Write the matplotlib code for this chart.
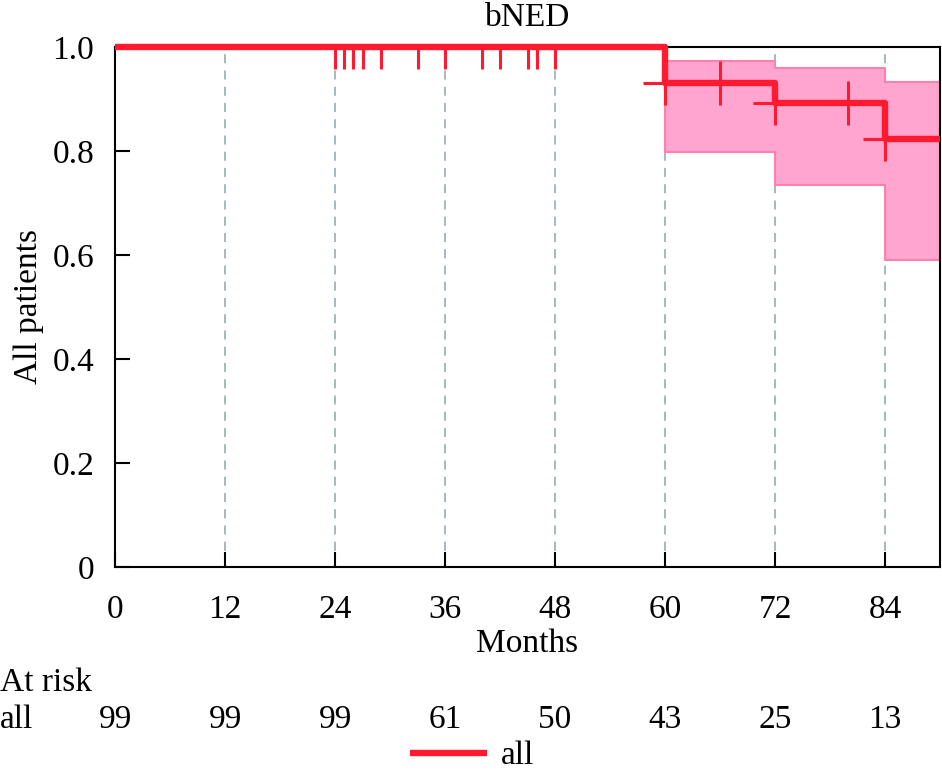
import matplotlib
matplotlib.use("Agg")
import matplotlib.pyplot as plt
import matplotlib.transforms as mtransforms

plt.rcParams['font.family'] = ['Liberation Serif', 'DejaVu Serif']

# Data
step_times = [0, 60, 72, 84, 90]
step_surv = [1.0, 0.930, 0.893, 0.824, 0.824]
ci_times = [60, 72, 84, 90]
ci_lower = [0.798, 0.734, 0.590, 0.590]
ci_upper = [0.974, 0.960, 0.932, 0.932]
censor_times = [24, 25, 26, 27, 29, 33, 36, 40, 42, 45, 46, 48, 60, 66, 72, 80, 84]
censor_surv = [1.0]*12 + [0.930, 0.930, 0.893, 0.893, 0.824]
risk_times = [0, 12, 24, 36, 48, 60, 72, 84]
risk_all = [99, 99, 99, 61, 50, 43, 25, 13]
xticks = [0, 12, 24, 36, 48, 60, 72, 84]
yticks = [0, 0.2, 0.4, 0.6, 0.8, 1.0]
ytick_labels = ["0", "0.2", "0.4", "0.6", "0.8", "1.0"]

RED = "#ff1a30"
FS = 24

fig = plt.figure(figsize=(9.42, 7.74), dpi=100)
ax = fig.add_axes([115/942, 1-567/774, 825/942, 520/774])

# CI band
ax.fill_between(ci_times, ci_lower, ci_upper, step='post',
                facecolor="#ffa5cf", edgecolor="#ff80aa", linewidth=1.5, zorder=1)

# grid
for t in xticks[1:]:
    ax.axvline(t, color="#9db4b7", linestyle=(0, (5, 4)), linewidth=1.3, zorder=0.5)

line, = ax.plot(step_times, step_surv, drawstyle='steps-post', color=RED,
                linewidth=4.6, zorder=3, label="all", solid_capstyle='butt',
                clip_on=False)
ax.plot(censor_times, censor_surv, linestyle='none', marker='+', markersize=32,
        markeredgewidth=2.2, color=RED, zorder=3)

ax.set_xlim(0, 90)
ax.set_ylim(0, 1.0)
ax.set_xticks(xticks)
ax.set_xticklabels([str(t) for t in xticks], fontsize=FS)
ax.set_yticks(yticks)
ax.set_yticklabels(ytick_labels, fontsize=FS)
ax.tick_params(direction='in', length=11, width=1.5)
ax.tick_params(axis='x', pad=20)
ax.tick_params(axis='y', pad=15)
for s in ax.spines.values():
    s.set_linewidth(1.5)

ax.set_xlabel("Months", fontsize=FS, labelpad=2)
ax.set_ylabel("All patients", fontsize=FS, labelpad=6)
ax.set_title("bNED", fontsize=FS, pad=15)

# At risk table
trans = mtransforms.blended_transform_factory(ax.transData, fig.transFigure)
fig.text(0.0, 1-683/774, "At risk", fontsize=FS, ha='left', va='center')
fig.text(0.0, 1-720/774, "all", fontsize=FS, ha='left', va='center')
for t, n in zip(risk_times, risk_all):
    ax.text(t, 1-720/774, str(n), fontsize=FS, ha='center', va='center',
            transform=trans, clip_on=False)

fig.legend(handles=[line], labels=["all"], loc='center',
           bbox_to_anchor=(472/942, 1-756/774), frameon=False, fontsize=FS,
           handlelength=2.3, handletextpad=0.4, borderpad=0)

fig.savefig("out.png", dpi=100)
